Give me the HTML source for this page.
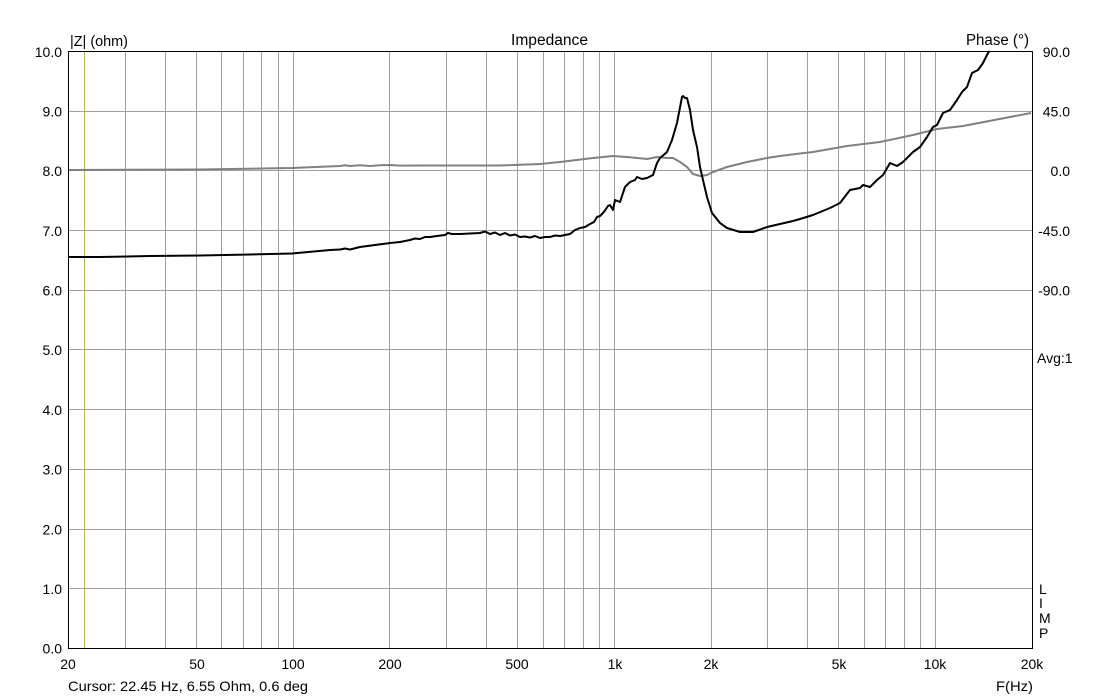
<!DOCTYPE html>
<html><head><meta charset="utf-8"><style>
html,body{margin:0;padding:0;background:#fff;}
svg{display:block;}
text{font-family:"Liberation Sans",Arial,sans-serif;font-size:14px;fill:#000;}
</style></head><body>
<svg width="1100" height="699" viewBox="0 0 1100 699" xmlns="http://www.w3.org/2000/svg">
<rect width="1100" height="699" fill="#fff"/>
<g stroke="#a0a0a0" stroke-width="1" shape-rendering="crispEdges">
<line x1="125.5" y1="51" x2="125.5" y2="648"/>
<line x1="165.5" y1="51" x2="165.5" y2="648"/>
<line x1="196.5" y1="51" x2="196.5" y2="648"/>
<line x1="221.5" y1="51" x2="221.5" y2="648"/>
<line x1="243.5" y1="51" x2="243.5" y2="648"/>
<line x1="261.5" y1="51" x2="261.5" y2="648"/>
<line x1="278.5" y1="51" x2="278.5" y2="648"/>
<line x1="293.5" y1="51" x2="293.5" y2="648"/>
<line x1="389.5" y1="51" x2="389.5" y2="648"/>
<line x1="446.5" y1="51" x2="446.5" y2="648"/>
<line x1="486.5" y1="51" x2="486.5" y2="648"/>
<line x1="517.5" y1="51" x2="517.5" y2="648"/>
<line x1="543.5" y1="51" x2="543.5" y2="648"/>
<line x1="564.5" y1="51" x2="564.5" y2="648"/>
<line x1="583.5" y1="51" x2="583.5" y2="648"/>
<line x1="599.5" y1="51" x2="599.5" y2="648"/>
<line x1="614.5" y1="51" x2="614.5" y2="648"/>
<line x1="711.5" y1="51" x2="711.5" y2="648"/>
<line x1="767.5" y1="51" x2="767.5" y2="648"/>
<line x1="807.5" y1="51" x2="807.5" y2="648"/>
<line x1="838.5" y1="51" x2="838.5" y2="648"/>
<line x1="864.5" y1="51" x2="864.5" y2="648"/>
<line x1="885.5" y1="51" x2="885.5" y2="648"/>
<line x1="904.5" y1="51" x2="904.5" y2="648"/>
<line x1="920.5" y1="51" x2="920.5" y2="648"/>
<line x1="935.5" y1="51" x2="935.5" y2="648"/>
<line x1="68" y1="111.5" x2="1032" y2="111.5"/>
<line x1="68" y1="170.5" x2="1032" y2="170.5"/>
<line x1="68" y1="230.5" x2="1032" y2="230.5"/>
<line x1="68" y1="290.5" x2="1032" y2="290.5"/>
<line x1="68" y1="349.5" x2="1032" y2="349.5"/>
<line x1="68" y1="409.5" x2="1032" y2="409.5"/>
<line x1="68" y1="469.5" x2="1032" y2="469.5"/>
<line x1="68" y1="529.5" x2="1032" y2="529.5"/>
<line x1="68" y1="588.5" x2="1032" y2="588.5"/>
</g>
<line x1="84.5" y1="52" x2="84.5" y2="648" stroke="#c8c000" stroke-width="1" shape-rendering="crispEdges"/>
<rect x="68.5" y="51.5" width="964" height="597" fill="none" stroke="#000" stroke-width="1.3" shape-rendering="crispEdges"/>
<polyline fill="none" stroke="#808080" stroke-width="2" stroke-linejoin="round" points="69,170 200,169.5 292,168 340,166 345,165.3 350,166 360,165.3 370,166 380,165.2 390,165 400,165.6 420,165.5 450,165.5 500,165.5 540,164 560,162 593,158 613,156 627,157 647,159 657,157 667,158 673,158 680,162 687,167 693,174 700,176 707,175 713,172 727,167 747,162 767,158 780,156 800,153.5 813,152 847,146 880,142 913,135 937,129 963,126 1010,117 1031,113"/>
<polyline fill="none" stroke="#000" stroke-width="2" stroke-linejoin="round" points="69,257 100,257 150,256 200,255.5 250,254.5 292,253.5 330,250 340,249.5 345,248.5 350,249.5 360,247 375,245 390,243 400,242 410,240 415,238.5 420,239 425,237 430,237 437,236 445,235 448,233 452,234 460,234 470,233.5 480,233 485,231.5 490,234 495,232.5 500,235 505,233 510,235.5 515,234.5 520,237 525,236.5 530,237.5 535,236 540,238 545,237 550,237 555,235.5 560,236 565,235 570,234 575,230 580,228 585,227 590,224 594,222 597,217 600,216 603,213 606,209 608,206 610,205 613,210 615,200 620,202 625,187 630,182 635,180 637,177 642,179 647,178 653,175 657,163 660,158 667,152 672,140 677,123 682,97 683,96 685,98 687,98 690,110 693,130 697,147 700,167 703,180 707,197 712,213 720,223 727,228 740,232 753,232 767,227 780,224 793,221 800,219 813,215 830,208 840,203 850,190 860,188 863,185 870,187 877,180 883,175 890,163 897,166 903,162 913,152 920,147 927,137 933,127 937,125 943,113 950,110 957,100 962,92 967,87 972,73 978,70 983,63 988,53 989.5,51"/>
<g text-anchor="end">
<text x="62" y="57">10.0</text>
<text x="62" y="116.5">9.0</text>
<text x="62" y="176">8.0</text>
<text x="62" y="236">7.0</text>
<text x="62" y="295.5">6.0</text>
<text x="62" y="355">5.0</text>
<text x="62" y="415">4.0</text>
<text x="62" y="474.5">3.0</text>
<text x="62" y="534.5">2.0</text>
<text x="62" y="594">1.0</text>
<text x="62" y="653.5">0.0</text>
<text x="1070" y="57">90.0</text>
<text x="1070" y="116.5">45.0</text>
<text x="1070" y="176">0.0</text>
<text x="1070" y="236">-45.0</text>
<text x="1070" y="295.5">-90.0</text>
</g>
<text x="966" y="45" style="font-size:15.5px" textLength="63" lengthAdjust="spacingAndGlyphs">Phase (°)</text>
<text x="996" y="691" textLength="37" lengthAdjust="spacingAndGlyphs">F(Hz)</text>
<text x="511" y="45" style="font-size:15.5px" textLength="77" lengthAdjust="spacingAndGlyphs">Impedance</text>
<g text-anchor="middle">
<text x="68" y="669">20</text>
<text x="197" y="669">50</text>
<text x="293" y="669">100</text>
<text x="390" y="669">200</text>
<text x="517" y="669">500</text>
<text x="615" y="669">1k</text>
<text x="711" y="669">2k</text>
<text x="839" y="669">5k</text>
<text x="935" y="669">10k</text>
<text x="1032" y="669">20k</text>
</g>
<text x="70" y="46" style="font-size:14.5px" textLength="58" lengthAdjust="spacingAndGlyphs">|Z| (ohm)</text>
<text x="1037" y="363">Avg:1</text>
<text x="68" y="691" textLength="240" lengthAdjust="spacingAndGlyphs">Cursor: 22.45 Hz, 6.55 Ohm, 0.6 deg</text>
<text x="1039" y="594">L</text>
<text x="1039" y="608">I</text>
<text x="1039" y="623">M</text>
<text x="1039" y="638">P</text>
</svg>
</body></html>
